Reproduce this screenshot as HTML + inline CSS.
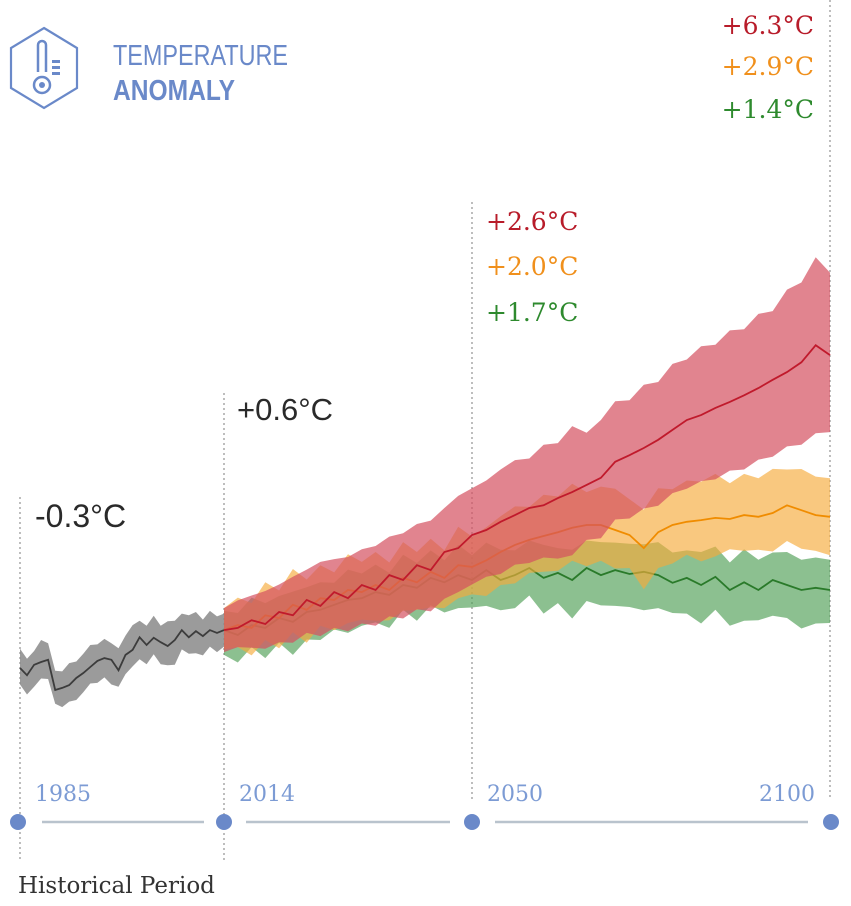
<!DOCTYPE html>
<html><head><meta charset="utf-8"><style>
html,body{margin:0;padding:0;background:#fff;}
svg{display:block;}
.slab{font-family:"DejaVu Serif","Liberation Serif",serif;font-size:25px;}
.sans{font-family:"Liberation Sans",sans-serif;}
</style></head><body>
<svg id="chart" width="851" height="906" viewBox="0 0 851 906" xmlns="http://www.w3.org/2000/svg">
  <g>
    <polygon points="44,28 77,48 77,88 44,108 11,88 11,48" fill="none" stroke="#6a89c9" stroke-width="2.2"/>
    <g fill="none" stroke="#6a89c9" stroke-width="2.5">
      <path d="M38,72 V45 a4,4 0 0 1 8,0 V72"/>
      <circle cx="42" cy="85" r="8"/>
      <circle cx="42" cy="85" r="3" fill="#6a89c9" stroke="none"/>
    </g>
    <g fill="#6a89c9">
      <rect x="52" y="60" width="8" height="3"/><rect x="52" y="66" width="8" height="3"/><rect x="52" y="72" width="8" height="3"/>
    </g>
    <text x="113" y="65" fill="#6a89c9" font-family="'Liberation Sans Narrow','Liberation Sans',sans-serif" font-size="29" textLength="175" lengthAdjust="spacingAndGlyphs">TEMPERATURE</text>
    <text x="113" y="100" fill="#6a89c9" font-weight="bold" font-family="'Liberation Sans Narrow','Liberation Sans',sans-serif" font-size="29" textLength="122" lengthAdjust="spacingAndGlyphs">ANOMALY</text>
  </g>
  <g id="guides" stroke="#9a9a9a" stroke-width="1.3" stroke-dasharray="2,3">
    <line x1="20" y1="497" x2="20" y2="862"/>
    <line x1="224" y1="393" x2="224" y2="862"/>
    <line x1="472" y1="202" x2="472" y2="800"/>
    <line x1="830" y1="0" x2="830" y2="800"/>
  </g>
  <g id="series"></g>
  <g>
    <text class="sans" x="35" y="527" font-size="32" fill="#2a2a2a">-0.3°C</text>
    <text class="sans" x="237" y="420" font-size="31" fill="#2a2a2a">+0.6°C</text>
    <text class="slab" x="486" y="230" fill="#b81c2a">+2.6°C</text>
    <text class="slab" x="486" y="275" fill="#f0901c">+2.0°C</text>
    <text class="slab" x="486" y="321" fill="#2e8a2e">+1.7°C</text>
    <text class="slab" x="814" y="34" text-anchor="end" fill="#b81c2a">+6.3°C</text>
    <text class="slab" x="814" y="75" text-anchor="end" fill="#f0901c">+2.9°C</text>
    <text class="slab" x="814" y="118" text-anchor="end" fill="#2e8a2e">+1.4°C</text>
  </g>
  <g>
    <line x1="42" y1="822" x2="204" y2="822" stroke="#b9c3cd" stroke-width="2.5"/>
    <line x1="246" y1="822" x2="450" y2="822" stroke="#b9c3cd" stroke-width="2.5"/>
    <line x1="495" y1="822" x2="808" y2="822" stroke="#b9c3cd" stroke-width="2.5"/>
    <circle cx="18" cy="822" r="8" fill="#6a89c9"/>
    <circle cx="224" cy="822" r="8" fill="#6a89c9"/>
    <circle cx="472" cy="822" r="8" fill="#6a89c9"/>
    <circle cx="831" cy="822" r="8" fill="#6a89c9"/>
    <text x="35" y="801" font-family="'DejaVu Serif','Liberation Serif',serif" font-size="22" fill="#7c9bd4">1985</text>
    <text x="239" y="801" font-family="'DejaVu Serif','Liberation Serif',serif" font-size="22" fill="#7c9bd4">2014</text>
    <text x="487" y="801" font-family="'DejaVu Serif','Liberation Serif',serif" font-size="22" fill="#7c9bd4">2050</text>
    <text x="815" y="801" font-family="'DejaVu Serif','Liberation Serif',serif" font-size="22" fill="#7c9bd4" text-anchor="end">2100</text>
    <text x="18" y="893" font-family="'DejaVu Serif','Liberation Serif',serif" font-size="23" fill="#333">Historical Period</text>
  </g>
</svg>
<script>
const histYears = [1985,1986,1987,1988,1989,1990,1991,1992,1993,1994,1995,1996,1997,1998,1999,2000,2001,2002,2003,2004,2005,2006,2007,2008,2009,2010,2011,2012,2013,2014];
const histMean = [-0.51,-0.64,-0.45,-0.4,-0.36,-0.91,-0.87,-0.82,-0.69,-0.6,-0.49,-0.38,-0.33,-0.36,-0.55,-0.27,-0.18,0.05,-0.09,0.04,-0.04,-0.11,0,0.18,0.05,0.16,0.07,0.18,0.13,0.18];
const histUp = [0.35,0.3,0.25,0.4,0.3,0.35,0.3,0.4,0.3,0.35,0.4,0.3,0.35,0.3,0.4,0.35,0.45,0.3,0.35,0.4,0.3,0.45,0.35,0.3,0.4,0.35,0.3,0.35,0.3,0.3];
const histLo = [0.3,0.35,0.4,0.3,0.35,0.25,0.35,0.3,0.4,0.35,0.3,0.4,0.35,0.45,0.3,0.35,0.3,0.4,0.35,0.3,0.4,0.35,0.45,0.35,0.3,0.4,0.35,0.3,0.35,0.3];
const futYears = [2014,2016,2018,2020,2022,2024,2026,2028,2030,2032,2034,2036,2038,2040,2042,2044,2046,2048,2050,2052,2054,2056,2058,2060,2062,2064,2066,2068,2070,2072,2074,2076,2078,2080,2082,2084,2086,2088,2090,2092,2094,2096,2098,2100];
const greenMean = [0.18,0.09,0.27,0.22,0.4,0.33,0.51,0.55,0.64,0.73,0.76,0.87,0.82,1.0,0.95,1.13,1.05,1.18,1.09,1.27,1.09,1.18,1.31,1.13,1.22,1.09,1.31,1.18,1.27,1.2,1.24,1.18,1.04,1.13,1.0,1.15,0.91,1.05,0.91,1.09,1.0,0.91,0.95,0.91];
const greenUp = [0.35,0.4,0.5,0.45,0.4,0.55,0.45,0.5,0.4,0.55,0.45,0.5,0.4,0.55,0.45,0.5,0.4,0.55,0.45,0.5,0.55,0.45,0.5,0.6,0.45,0.55,0.5,0.6,0.5,0.55,0.5,0.6,0.55,0.5,0.6,0.55,0.5,0.6,0.55,0.5,0.6,0.55,0.55,0.55];
const greenLo = [0.45,0.5,0.4,0.55,0.45,0.6,0.5,0.55,0.45,0.6,0.5,0.55,0.6,0.45,0.6,0.5,0.55,0.6,0.5,0.65,0.55,0.6,0.5,0.65,0.55,0.7,0.6,0.55,0.65,0.6,0.7,0.6,0.55,0.65,0.7,0.6,0.65,0.7,0.55,0.65,0.6,0.7,0.65,0.6];
const orangeMean = [0.18,0.27,0.22,0.45,0.4,0.64,0.55,0.76,0.73,0.91,0.87,1.0,0.91,1.13,1.05,1.24,1.13,1.36,1.33,1.45,1.6,1.73,1.82,1.89,1.96,2.04,2.09,2.09,2.0,1.91,1.67,1.96,2.09,2.15,2.18,2.22,2.2,2.27,2.24,2.31,2.45,2.36,2.27,2.24];
const orangeUp = [0.4,0.5,0.45,0.6,0.5,0.65,0.55,0.6,0.5,0.65,0.55,0.6,0.5,0.65,0.55,0.6,0.5,0.7,0.55,0.6,0.65,0.7,0.6,0.75,0.65,0.8,0.6,0.7,0.75,0.65,0.7,0.8,0.65,0.75,0.7,0.8,0.65,0.75,0.7,0.8,0.65,0.75,0.7,0.7];
const orangeLo = [0.35,0.4,0.5,0.45,0.55,0.5,0.6,0.5,0.55,0.6,0.5,0.65,0.55,0.6,0.5,0.65,0.55,0.6,0.5,0.65,0.6,0.7,0.6,0.65,0.7,0.6,0.75,0.65,0.7,0.6,0.75,0.65,0.7,0.6,0.75,0.7,0.55,0.65,0.6,0.7,0.65,0.7,0.65,0.7];
const redMean = [0.18,0.22,0.36,0.29,0.51,0.45,0.73,0.62,0.87,0.76,1.0,0.91,1.18,1.09,1.36,1.27,1.6,1.67,1.91,2.0,2.15,2.27,2.4,2.45,2.58,2.69,2.82,2.95,3.24,3.36,3.49,3.64,3.82,4.0,4.09,4.22,4.33,4.45,4.58,4.73,4.87,5.05,5.36,5.18];
const redUp = [0.4,0.5,0.45,0.6,0.5,0.7,0.55,0.8,0.6,0.75,0.65,0.8,0.7,0.85,0.75,0.9,0.8,0.95,0.85,0.9,0.95,1.0,0.9,1.1,1.0,1.2,0.95,1.05,1.1,1.0,1.15,1.05,1.2,1.1,1.25,1.15,1.3,1.2,1.35,1.25,1.5,1.45,1.6,1.5];
const redLo = [0.4,0.35,0.5,0.45,0.55,0.5,0.6,0.55,0.65,0.6,0.7,0.65,0.75,0.7,0.8,0.75,0.85,0.8,0.9,0.85,0.95,0.9,1.0,0.95,1.1,1.15,1.0,1.1,1.05,1.15,1.1,1.2,1.15,1.25,1.2,1.3,1.25,1.35,1.3,1.4,1.35,1.5,1.6,1.4];

const NS = 'http://www.w3.org/2000/svg';
function xScale(yr){
  if (yr <= 2014) return 20 + (yr-1985)*(224-20)/(2014-1985);
  if (yr <= 2050) return 224 + (yr-2014)*(472-224)/(2050-2014);
  return 472 + (yr-2050)*(830-472)/(2100-2050);
}
function yScale(v){ return 640 - 55*v; }
const layer = document.getElementById('series');
function drawSeries(name, years, mean, up, lo, fill, fillOp, stroke){
  let top = years.map((y,i)=>xScale(y).toFixed(1)+','+yScale(mean[i]+up[i]).toFixed(1));
  let bot = years.map((y,i)=>xScale(y).toFixed(1)+','+yScale(mean[i]-lo[i]).toFixed(1)).reverse();
  const band = document.createElementNS(NS,'polygon');
  band.setAttribute('points', top.concat(bot).join(' '));
  band.setAttribute('fill', fill);
  band.setAttribute('fill-opacity', fillOp);
  
  
  layer.appendChild(band);
  const line = document.createElementNS(NS,'polyline');
  line.setAttribute('points', years.map((y,i)=>xScale(y).toFixed(1)+','+yScale(mean[i]).toFixed(1)).join(' '));
  line.setAttribute('fill','none');
  line.setAttribute('stroke', stroke);
  line.setAttribute('stroke-width','1.8');
  
  
  layer.appendChild(line);
}
drawSeries('historical', histYears, histMean, histUp, histLo, '#8a8a8a', 0.85, '#3c3c3c');
drawSeries('low-emission', futYears, greenMean, greenUp, greenLo, '#4f9e55', 0.65, '#2a7a2a');
drawSeries('mid-emission', futYears, orangeMean, orangeUp, orangeLo, '#f6aa3a', 0.65, '#f08c00');
drawSeries('high-emission', futYears, redMean, redUp, redLo, '#d4505f', 0.7, '#c01a2c');
</script>
</body></html>
